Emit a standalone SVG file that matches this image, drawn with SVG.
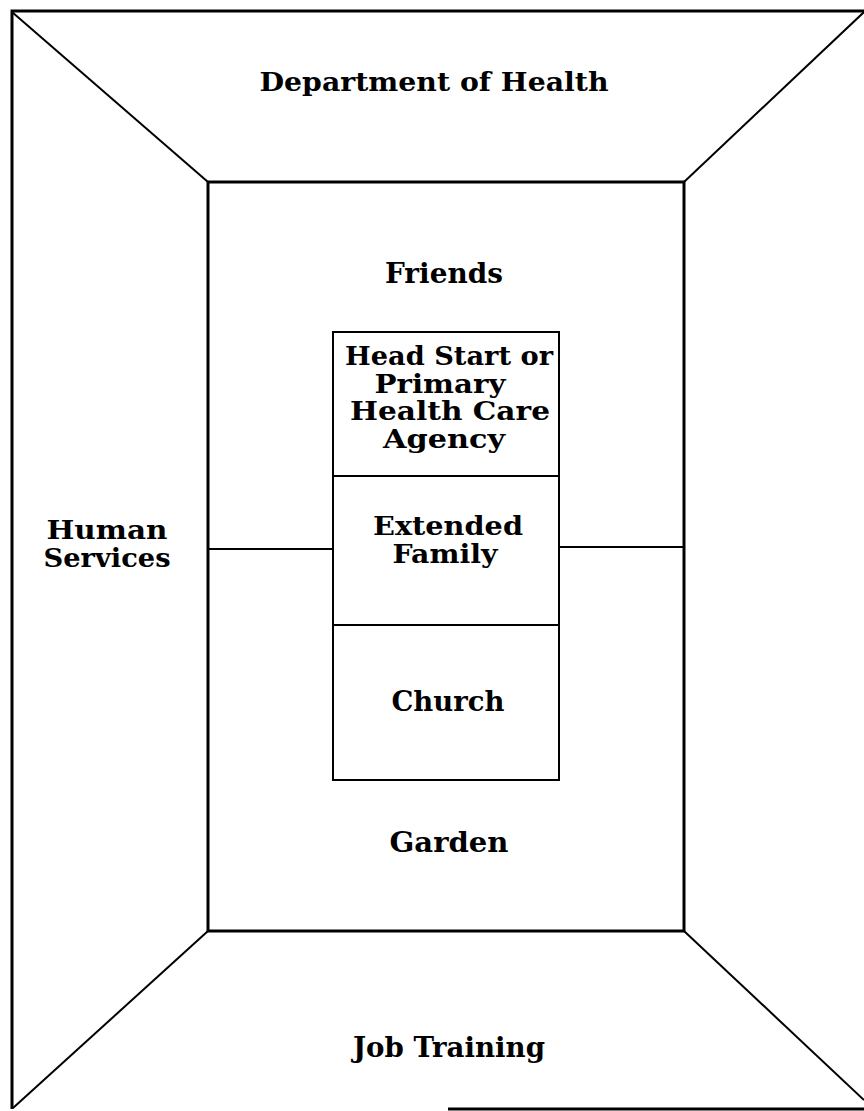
<svg xmlns="http://www.w3.org/2000/svg" width="864" height="1111" viewBox="0 0 864 1111">
<style>
.t{font-family:"DejaVu Serif","Liberation Serif",serif;font-weight:bold;font-size:26px;fill:#000;text-anchor:middle}
.o{font-size:27px}
.thick{stroke:#000;stroke-width:3;fill:none}
.thin{stroke:#000;stroke-width:2;fill:none}
</style>
<rect width="864" height="1111" fill="#fff"/>
<g id="frame">
<polyline class="thick" points="864,11 12,11 12,1109"/>
<line class="thick" x1="448" y1="1109" x2="864" y2="1109"/>
<rect class="thick" x="208" y="182" width="476" height="749"/>
</g>
<g id="connectors">
<line class="thin" x1="12" y1="12" x2="208" y2="182"/>
<line class="thin" x1="864" y1="12" x2="684" y2="182"/>
<line class="thin" x1="13" y1="1108" x2="208" y2="931"/>
<line class="thin" x1="684" y1="931" x2="864" y2="1100"/>
<line class="thin" x1="208" y1="549" x2="333" y2="549"/>
<line class="thin" x1="559" y1="547" x2="684" y2="547"/>
</g>
<g id="dept-health"><text class="t" x="434" y="91" font-size="28" textLength="349" lengthAdjust="spacingAndGlyphs">Department of Health</text></g>
<g id="human-services"><text class="t"><tspan x="107" y="539" textLength="121" lengthAdjust="spacingAndGlyphs">Human</tspan><tspan x="107" y="567" textLength="127" lengthAdjust="spacingAndGlyphs">Services</tspan></text></g>
<g id="job-training"><text class="t o" x="449" y="1057" textLength="192" lengthAdjust="spacingAndGlyphs">Job Training</text></g>
<g id="friends"><text class="t o" x="444" y="283" textLength="118" lengthAdjust="spacingAndGlyphs">Friends</text></g>
<g id="garden"><text class="t o" x="449" y="852" textLength="119" lengthAdjust="spacingAndGlyphs">Garden</text></g>
<g id="head-start">
<rect class="thin" x="333" y="332" width="226" height="144"/>
<text class="t"><tspan x="449" y="365" textLength="208" lengthAdjust="spacingAndGlyphs">Head Start or</tspan><tspan x="440" y="393" textLength="131" lengthAdjust="spacingAndGlyphs">Primary</tspan><tspan x="450" y="420" textLength="200" lengthAdjust="spacingAndGlyphs">Health Care</tspan><tspan x="444" y="448" textLength="122" lengthAdjust="spacingAndGlyphs">Agency</tspan></text>
</g>
<g id="extended-family">
<rect class="thin" x="333" y="476" width="226" height="149"/>
<text class="t"><tspan x="448" y="535" textLength="150" lengthAdjust="spacingAndGlyphs">Extended</tspan><tspan x="445" y="563" textLength="105" lengthAdjust="spacingAndGlyphs">Family</tspan></text>
</g>
<g id="church">
<rect class="thin" x="333" y="625" width="226" height="155"/>
<text class="t o" x="448" y="711" textLength="113" lengthAdjust="spacingAndGlyphs">Church</text>
</g>
</svg>
